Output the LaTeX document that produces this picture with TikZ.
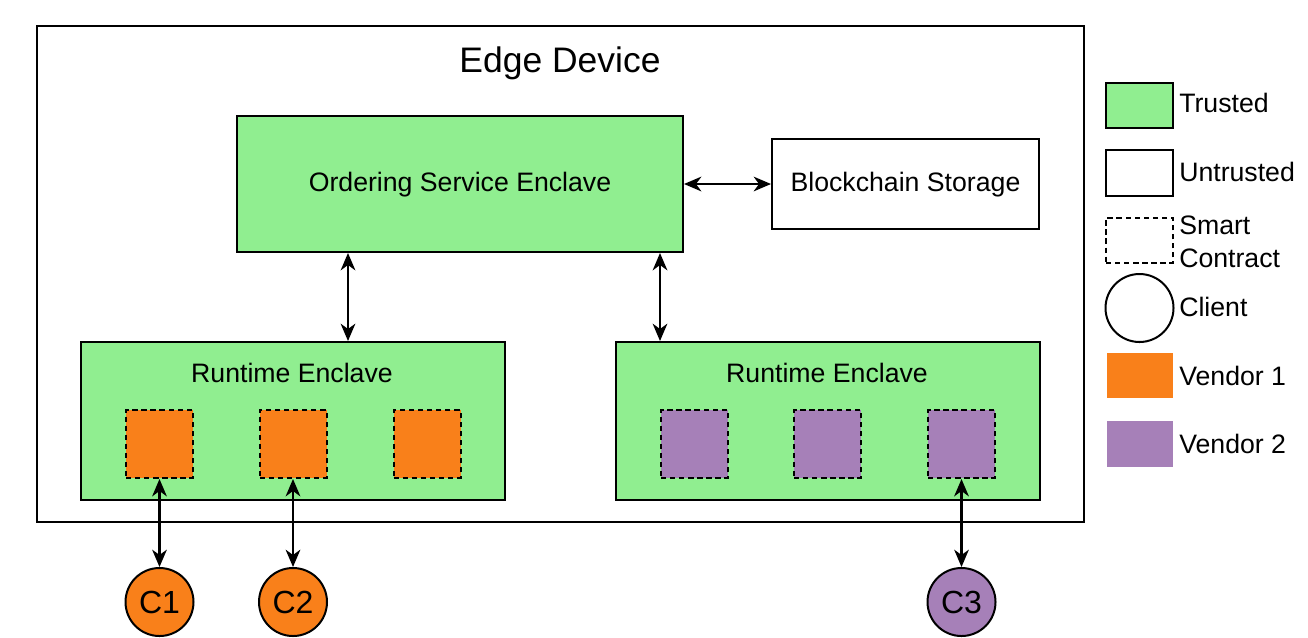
\documentclass[tikz,border=0pt]{standalone}
\usepackage{fontspec}
\setmainfont{Liberation Sans}
\usetikzlibrary{arrows.meta}
\definecolor{trustgreen}{HTML}{90EE90}
\definecolor{vendorone}{HTML}{F9801A}
\definecolor{vendortwo}{HTML}{A680B8}
\tikzset{
  px/.style={x=0.75pt,y=-0.75pt},
  boxline/.style={draw=black,line width=1.5pt},
  plainbox/.style={boxline,rectangle,inner sep=0pt},
  trustbox/.style={plainbox,fill=trustgreen},
  untrustbox/.style={plainbox,fill=white},
  scbox/.style={rectangle,inner sep=0pt,draw=black,line width=1.5pt,dash pattern=on 4pt off 2.8pt,minimum width=50.25pt,minimum height=51pt},
  client/.style={circle,boxline,inner sep=0pt,minimum size=51pt,font=\fontsize{24}{28}\selectfont},
  lbl/.style={inner sep=0pt,font=\fontsize{20}{24}\selectfont},
  legtxt/.style={lbl,anchor=west,align=left},
  arr/.style={line width=1.6pt,{Stealth[length=13pt,width=11pt,inset=4pt]}-{Stealth[length=13pt,width=11pt,inset=4pt]}},
}
\begin{document}
\begin{tikzpicture}[px]
\useasboundingbox (0,0) rectangle (1308,637);
% Edge device
\node[untrustbox,minimum width=785.25pt,minimum height=372pt] (edge) at (560.5,274) {};
\node[lbl,font=\fontsize{26.6}{30}\selectfont] (edgetitle) at (560,63) {Edge Device};
% Ordering service and storage
\node[trustbox,minimum width=334.5pt,minimum height=102pt] (ord) at (460,184) {};
\node[lbl] (ordtxt) at (460,185) {Ordering Service Enclave};
\node[untrustbox,minimum width=200.25pt,minimum height=67.5pt] (bc) at (905.5,184) {};
\node[lbl] (bctxt) at (905.5,185) {Blockchain Storage};
% Runtime enclaves
\node[trustbox,minimum width=318pt,minimum height=118.5pt] (rtL) at (293,421) {};
\node[lbl] (rtLtxt) at (292,373) {Runtime Enclave};
\node[trustbox,minimum width=318pt,minimum height=118.5pt] (rtR) at (828,421) {};
\node[lbl] (rtRtxt) at (827,373) {Runtime Enclave};
% Smart contracts
\node[scbox,fill=vendorone] (sc1) at (159.5,444) {};
\node[scbox,fill=vendorone] (sc2) at (293,444) {};
\node[scbox,fill=vendorone] (sc3) at (427,444) {};
\node[scbox,fill=vendortwo] (sc4) at (694.5,444) {};
\node[scbox,fill=vendortwo] (sc5) at (827.5,444) {};
\node[scbox,fill=vendortwo] (sc6) at (961.5,444) {};
% Clients
\node[client,fill=vendorone] (c1) at (159.5,602) {C1};
\node[client,fill=vendorone] (c2) at (293,602) {C2};
\node[client,fill=vendortwo] (c3) at (961.5,602) {C3};
% Connectors
\coordinate (xa) at (348,0);
\coordinate (xb) at (660,0);
\draw[arr] (ord.east) -- (bc.west);
\draw[arr] (ord.south -| xa) -- (rtL.north -| xa);
\draw[arr] (ord.south -| xb) -- (rtR.north -| xb);
\draw[arr] (sc1.south) -- (c1.north);
\draw[arr] (sc2.south) -- (c2.north);
\draw[arr] (sc6.south) -- (c3.north);
% Legend
\node[trustbox,minimum width=50.25pt,minimum height=33.75pt] (lg1) at (1139.5,105.5) {};
\node[legtxt] (lg1t) at (1179,103) {Trusted};
\node[untrustbox,minimum width=50.25pt,minimum height=34.5pt] (lg2) at (1139.5,173) {};
\node[legtxt] (lg2t) at (1179,172) {Untrusted};
\node[scbox,minimum width=50.25pt,minimum height=33.75pt] (lg3) at (1139.5,240.5) {};
\node[legtxt,font=\fontsize{20}{24.75}\selectfont] (lg3t) at (1179,242) {Smart\\Contract};
\node[client,fill=white] (lg4) at (1139.5,308) {};
\node[legtxt] (lg4t) at (1179,307) {Client};
\node[rectangle,inner sep=0pt,fill=vendorone,minimum width=49.5pt,minimum height=33.75pt] (lg5) at (1140,375.5) {};
\node[legtxt] (lg5t) at (1179,376) {Vendor 1};
\node[rectangle,inner sep=0pt,fill=vendortwo,minimum width=49.5pt,minimum height=34.5pt] (lg6) at (1140,444) {};
\node[legtxt] (lg6t) at (1179,444) {Vendor 2};
\end{tikzpicture}
\end{document}
